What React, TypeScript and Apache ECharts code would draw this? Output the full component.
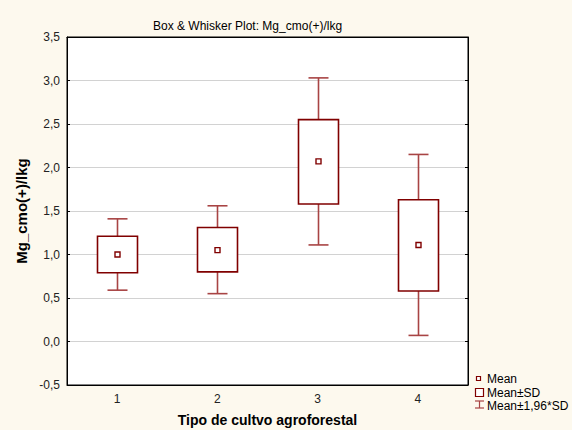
import React, { useEffect, useRef } from "react";
import * as echarts from "echarts";

const categories = ["1", "2", "3", "4"];
const means = [1.0, 1.05, 2.07, 1.11];
const sdLow = [0.79, 0.8, 1.58, 0.58];
const sdHigh = [1.21, 1.31, 2.55, 1.63];
const ciLow = [0.59, 0.55, 1.11, 0.07];
const ciHigh = [1.41, 1.56, 3.03, 2.15];
const yTicks = { min: -0.5, max: 3.5, interval: 0.5 };

const BOX = "#800000";
const WHISK = "#A84444";
const BG = "#FDF9EE";
const FONT = "Liberation Sans, Arial, sans-serif";

export default function App() {
  const ref = useRef<HTMLDivElement>(null);
  useEffect(() => {
    document.body.style.margin = "0";
    const chart = echarts.init(ref.current!, null, { renderer: "svg" });
    const data = categories.map((_, i) => [i, means[i], sdLow[i], sdHigh[i], ciLow[i], ciHigh[i]]);
    const fmt = (v: number) => v.toFixed(1).replace(".", ",");
    chart.setOption({
      animation: false,
      backgroundColor: BG,
      textStyle: { fontFamily: FONT },
      title: {
        text: "Box & Whisker Plot: Mg_cmo(+)/lkg",
        left: 148,
        top: 15,
        textStyle: { fontSize: 12, fontWeight: "normal", color: "#000", fontFamily: FONT },
      },
      grid: {
        left: 67,
        right: 104,
        top: 37,
        bottom: 45,
        show: true,
        containLabel: false,
        outerBoundsMode: "none",
        backgroundColor: "#fff",
        borderColor: "#000",
        borderWidth: 1,
      },
      xAxis: [
        {
          type: "category",
          data: categories,
          name: "Tipo de cultvo agroforestal",
          nameLocation: "middle",
          nameGap: 28,
          nameMoveOverlap: false,
          nameTextStyle: { fontSize: 14, fontWeight: "bold", color: "#000", fontFamily: FONT },
          axisLine: { onZero: false, lineStyle: { color: "#000", width: 1 } },
          axisTick: { inside: true, alignWithLabel: true, length: 3, lineStyle: { color: "#000" } },
          axisLabel: { fontSize: 12, color: "#222", margin: 8, fontFamily: FONT },
          splitLine: { show: false },
        },
        {
          type: "category",
          data: categories,
          position: "top",
          axisLine: { onZero: false, lineStyle: { color: "#000", width: 1 } },
          axisTick: { inside: true, alignWithLabel: true, length: 3, lineStyle: { color: "#000" } },
          axisLabel: { show: false },
        },
      ],
      yAxis: [
        {
          type: "value",
          min: yTicks.min,
          max: yTicks.max,
          interval: yTicks.interval,
          name: "Mg_cmo(+)/lkg",
          nameLocation: "middle",
          nameGap: 38,
          nameMoveOverlap: false,
          nameTextStyle: { fontSize: 15, fontWeight: "bold", color: "#000", fontFamily: FONT },
          axisLine: { show: true, onZero: false, lineStyle: { color: "#000", width: 1 } },
          axisTick: { show: true, inside: true, length: 3, lineStyle: { color: "#000" } },
          axisLabel: { fontSize: 12, color: "#222", margin: 7, formatter: fmt, fontFamily: FONT },
          splitLine: { show: true, lineStyle: { color: "#D2D2D2", width: 1 } },
        },
        {
          type: "value",
          min: yTicks.min,
          max: yTicks.max,
          interval: yTicks.interval,
          position: "right",
          axisLine: { show: true, onZero: false, lineStyle: { color: "#000", width: 1 } },
          axisTick: { show: true, inside: true, length: 3, lineStyle: { color: "#000" } },
          axisLabel: { show: false },
          splitLine: { show: false },
        },
      ],
      series: [
        {
          type: "custom",
          xAxisIndex: 0,
          yAxisIndex: 0,
          data,
          z: 10,
          renderItem: (params: any, api: any) => {
            const i = api.value(0);
            const pm = api.coord([i, api.value(1)]);
            const psl = api.coord([i, api.value(2)]);
            const psh = api.coord([i, api.value(3)]);
            const pcl = api.coord([i, api.value(4)]);
            const pch = api.coord([i, api.value(5)]);
            const cx = Math.round(pm[0]) + 0.5;
            const bw = 40;
            const cw = 20;
            const ms = 5;
            const wStyle = { stroke: WHISK, lineWidth: 1.6, fill: null };
            return {
              type: "group",
              children: [
                { type: "line", shape: { x1: cx, y1: psh[1], x2: cx, y2: pch[1] }, style: wStyle },
                { type: "line", shape: { x1: cx - cw / 2, y1: pch[1], x2: cx + cw / 2, y2: pch[1] }, style: wStyle },
                { type: "line", shape: { x1: cx, y1: psl[1], x2: cx, y2: pcl[1] }, style: wStyle },
                { type: "line", shape: { x1: cx - cw / 2, y1: pcl[1], x2: cx + cw / 2, y2: pcl[1] }, style: wStyle },
                {
                  type: "rect",
                  shape: { x: cx - bw / 2, y: psh[1], width: bw, height: psl[1] - psh[1] },
                  style: { stroke: BOX, lineWidth: 1.6, fill: "#fff" },
                },
                {
                  type: "rect",
                  shape: { x: cx - ms / 2, y: pm[1] - ms / 2, width: ms, height: ms },
                  style: { stroke: BOX, lineWidth: 1.4, fill: "#fff" },
                },
              ],
            };
          },
        },
      ],
      graphic: [
        { type: "rect", shape: { x: 476.5, y: 376.5, width: 4, height: 4 }, style: { stroke: BOX, lineWidth: 1.2, fill: "#fff" } },
        { type: "text", x: 487, y: 379, style: { text: "Mean", fill: "#000", font: "12px " + FONT, lineHeight: 12, verticalAlign: "middle" } },
        { type: "rect", shape: { x: 475.5, y: 388.5, width: 8, height: 8 }, style: { stroke: BOX, lineWidth: 1.2, fill: "#fff" } },
        { type: "text", x: 487, y: 392.5, style: { text: "Mean±SD", fill: "#000", font: "12px " + FONT, lineHeight: 12, verticalAlign: "middle" } },
        { type: "line", shape: { x1: 479.5, y1: 401, x2: 479.5, y2: 408 }, style: { stroke: WHISK, lineWidth: 1.2 } },
        { type: "line", shape: { x1: 475, y1: 401, x2: 484, y2: 401 }, style: { stroke: WHISK, lineWidth: 1.2 } },
        { type: "line", shape: { x1: 475, y1: 408, x2: 484, y2: 408 }, style: { stroke: WHISK, lineWidth: 1.2 } },
        { type: "text", x: 487, y: 405.5, style: { text: "Mean±1,96*SD", fill: "#000", font: "12px " + FONT, lineHeight: 12, verticalAlign: "middle" } },
      ],
    });
    return () => chart.dispose();
  }, []);
  return <div ref={ref} style={{ position: "absolute", left: 0, top: 0, width: 572, height: 430 }} />;
}
